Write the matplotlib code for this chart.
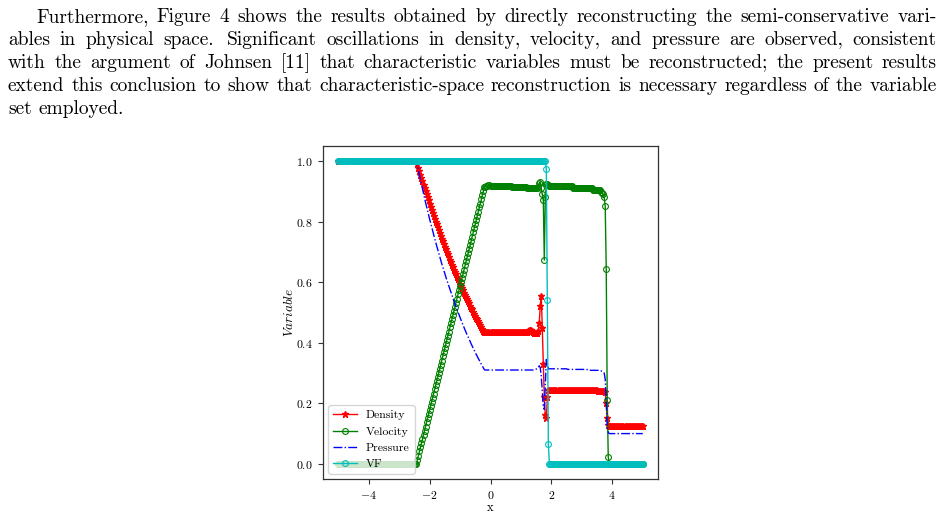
import numpy as np
import matplotlib
matplotlib.use("Agg")
import matplotlib.pyplot as plt

plt.rcParams['font.family'] = 'cmr10'
plt.rcParams['mathtext.fontset'] = 'cm'
plt.rcParams['axes.formatter.use_mathtext'] = True

# ---------------- data ----------------
n_cells = 301
x = np.linspace(-5, 5, n_cells)

rho_fan = [1.000, 0.989, 0.977, 0.966, 0.955, 0.944, 0.933, 0.922, 0.912, 0.901,
           0.890, 0.880, 0.870, 0.860, 0.849, 0.839, 0.829, 0.820, 0.810, 0.800,
           0.791, 0.781, 0.772, 0.763, 0.753, 0.744, 0.735, 0.726, 0.718, 0.709,
           0.700, 0.692, 0.683, 0.675, 0.666, 0.658, 0.650, 0.642, 0.634, 0.626,
           0.618, 0.610, 0.603, 0.595, 0.587, 0.580, 0.573, 0.565, 0.558, 0.551,
           0.544, 0.537, 0.530, 0.523, 0.516, 0.510, 0.503, 0.496, 0.490, 0.483,
           0.477, 0.471, 0.464, 0.458, 0.452, 0.446, 0.440, 0.434]
p_fan = [1.000, 0.984, 0.968, 0.953, 0.938, 0.922, 0.908, 0.893, 0.878, 0.864,
         0.850, 0.836, 0.823, 0.809, 0.796, 0.783, 0.770, 0.757, 0.744, 0.732,
         0.720, 0.708, 0.696, 0.684, 0.673, 0.661, 0.650, 0.639, 0.628, 0.618,
         0.607, 0.597, 0.586, 0.576, 0.566, 0.557, 0.547, 0.537, 0.528, 0.519,
         0.510, 0.501, 0.492, 0.483, 0.475, 0.466, 0.458, 0.450, 0.442, 0.434,
         0.426, 0.419, 0.411, 0.404, 0.396, 0.389, 0.382, 0.375, 0.368, 0.361,
         0.355, 0.348, 0.342, 0.335, 0.329, 0.323, 0.317, 0.311]
u_fan = [0.000, 0.014, 0.027, 0.041, 0.055, 0.068, 0.082, 0.096, 0.109, 0.123,
         0.137, 0.150, 0.164, 0.178, 0.191, 0.205, 0.219, 0.232, 0.246, 0.259,
         0.273, 0.287, 0.300, 0.314, 0.328, 0.341, 0.355, 0.369, 0.382, 0.396,
         0.410, 0.423, 0.437, 0.451, 0.464, 0.478, 0.492, 0.505, 0.519, 0.533,
         0.546, 0.560, 0.574, 0.587, 0.601, 0.615, 0.628, 0.642, 0.656, 0.669,
         0.683, 0.696, 0.710, 0.724, 0.737, 0.751, 0.765, 0.778, 0.792, 0.806,
         0.819, 0.833, 0.847, 0.860, 0.874, 0.888, 0.901, 0.915]

density = ([1.0] * 77 + rho_fan + [0.434] * 35 + [0.436] * 7
           + [0.439, 0.441, 0.442, 0.441, 0.438, 0.435, 0.433, 0.432, 0.432, 0.433]
           + [0.440, 0.465, 0.520, 0.555, 0.450, 0.330, 0.220, 0.160, 0.150, 0.220]
           + [0.245] * 24 + [0.244] * 25 + [0.242] * 6
           + [0.240, 0.236, 0.200, 0.150, 0.130] + [0.1245] * 34)

velocity = ([0.0] * 77 + u_fan
            + [0.916, 0.918, 0.919, 0.920, 0.920, 0.919]
            + [0.918] * 20 + [0.915] * 15 + [0.912] * 11
            + [0.915, 0.928, 0.932, 0.910, 0.890, 0.873, 0.673, 0.880, 0.925, 0.926, 0.920]
            + [0.917] * 23 + [0.910] * 20 + [0.905] * 8
            + [0.898, 0.895, 0.890]
            + [0.880, 0.852, 0.645, 0.210, 0.023] + [0.0] * 34)

pressure = ([1.0] * 77 + p_fan + [0.310] * 48
            + [0.311, 0.312, 0.313, 0.315]
            + [0.318, 0.324, 0.318, 0.290, 0.240, 0.190, 0.180, 0.260, 0.345, 0.330]
            + [0.314] * 19 + [0.312] * 20 + [0.309] * 13
            + [0.307, 0.305, 0.303, 0.300, 0.280, 0.200, 0.125, 0.104]
            + [0.100] * 34)

vf = [1.0] * 205 + [0.975, 0.540, 0.065] + [0.0] * 93

x_ticks = [-4, -2, 0, 2, 4]
y_ticks = [0.0, 0.2, 0.4, 0.6, 0.8, 1.0]

para_lines = [
    "Furthermore, Figure 4 shows the results obtained by directly reconstructing the semi-conservative vari-",
    "ables in physical space. Significant oscillations in density, velocity, and pressure are observed, consistent",
    "with the argument of Johnsen [11] that characteristic variables must be reconstructed; the present results",
    "extend this conclusion to show that characteristic-space reconstruction is necessary regardless of the variable",
    "set employed.",
]

# ---------------- figure ----------------
W, H = 943, 516
fig = plt.figure(figsize=(W / 100, H / 100), dpi=100)
fig.patch.set_facecolor('white')

ax = fig.add_axes([323 / W, 1 - 479 / H, (658 - 323) / W, (479 - 146) / H])
ax.plot(x, density, color='r', ls='-', marker='*', ms=5, lw=1.0, label='Density')
ax.plot(x, velocity, color='g', ls='-', marker='o', ms=4.2, mfc='none', mew=0.8, lw=1.0, label='Velocity')
ax.plot(x, pressure, color='b', ls='-.', lw=1.0, label='Pressure')
ax.plot(x, vf, color='c', ls='-', marker='o', ms=4.2, mfc='none', mew=0.8, lw=1.0, label='VF')

for sp in ax.spines.values():
    sp.set_color('#333333')
    sp.set_linewidth(0.9)

ax.set_xticks(x_ticks)
ax.set_yticks(y_ticks)
ax.tick_params(labelsize=8.5, length=3.5, width=0.8, color='#333333', pad=4)
ax.set_xlabel('x', fontsize=9, labelpad=0.5)
ax.set_ylabel('$Variable$', fontsize=9.5, labelpad=0)
ax.legend(loc='lower left', fontsize=8.5, handlelength=2.0, borderaxespad=0.45)

# ---------------- justified paragraph ----------------
renderer = fig.canvas.get_renderer()
fs = 14.0
right = 937
baselines = [22, 45, 68, 91, 114]
space_nat = 0.333 * fs * 100 / 72
for li, line in enumerate(para_lines):
    words = line.split()
    left = 36 if li == 0 else 8
    texts = [fig.text(0, 0, w, fontsize=fs, family='cmr10', va='baseline', ha='left')
             for w in words]
    widths = [t.get_window_extent(renderer).width for t in texts]
    weights = [1.4 if words[j].endswith('.') else 1.0 for j in range(len(words) - 1)]
    if li < len(para_lines) - 1:
        unit = (right - left - sum(widths)) / sum(weights)
    else:
        unit = space_nat
    xpos = left
    for j, t in enumerate(texts):
        t.set_position((xpos / W, 1 - baselines[li] / H))
        if j < len(words) - 1:
            xpos += widths[j] + weights[j] * unit

fig.savefig('out.png', dpi=100)
